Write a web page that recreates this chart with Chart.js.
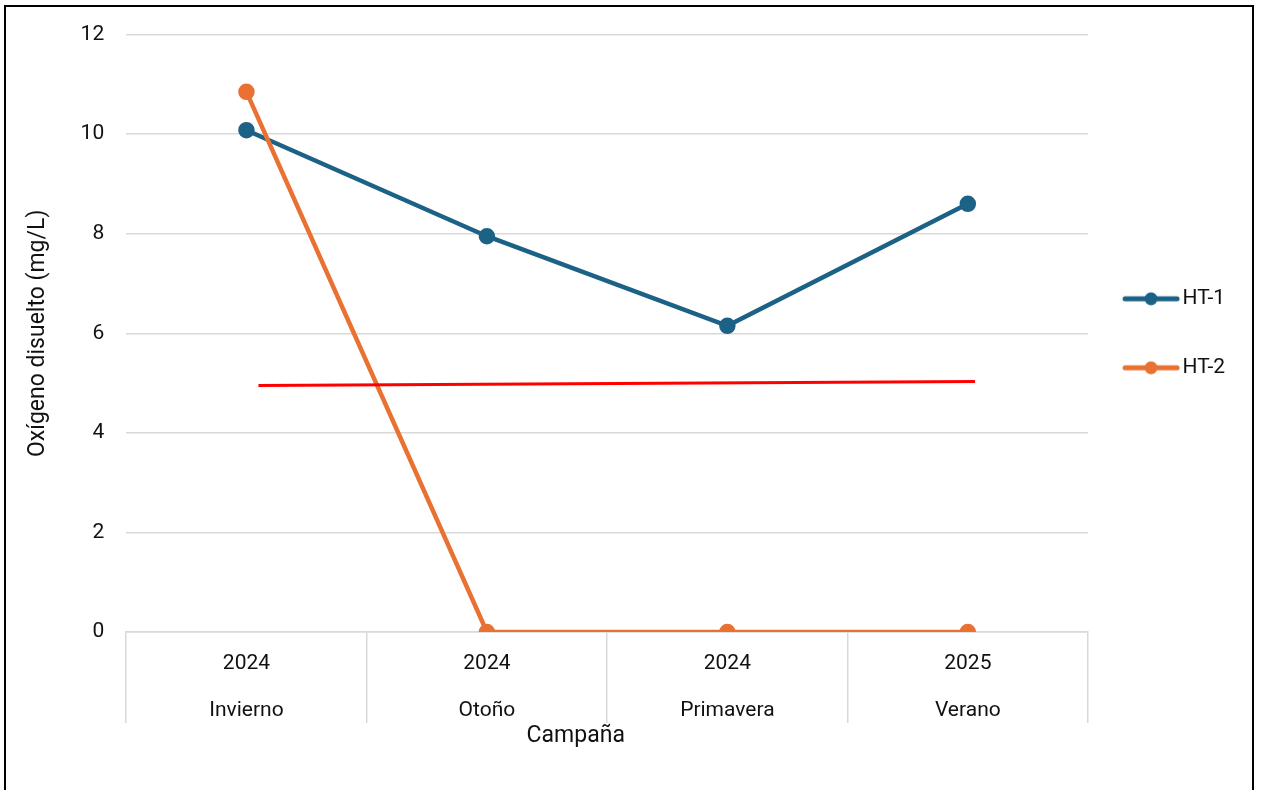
<!DOCTYPE html>
<html>
<head>
<meta charset="utf-8">
<script src="https://cdn.jsdelivr.net/npm/chart.js@4.4.1/dist/chart.umd.min.js"></script>
<style>
    html, body { margin: 0; padding: 0; background: #fff; }
    #wrap { position: relative; width: 1261px; height: 790px; }
    #frame {
        position: absolute; left: 4px; top: 5px; width: 1250px; height: 800px;
        border: 2px solid #000; box-sizing: border-box; pointer-events: none;
    }
</style>
</head>
<body>
<div id="wrap">
    <canvas id="myChart" width="1261" height="790"></canvas>
    <div id="frame"></div>
</div>
<script>
const years = ['2024', '2024', '2024', '2025'];
const seasons = ['Invierno', 'Otoño', 'Primavera', 'Verano'];
const ht1 = [10.08, 7.95, 6.15, 8.6];
const ht2 = [10.85, 0, 0, 0];
// limite de referencia (5 mg/L), trazado a mano sobre el grafico
const limitX = [0.55, 3.53];
const limitY = [4.95, 5.03];
const yTicks = [0, 2, 4, 6, 8, 10, 12];

const BLUE = '#1b6286';
const ORANGE = '#e97132';
const FONT = 'Roboto, "Liberation Sans", sans-serif';

Chart.defaults.font.family = FONT;
Chart.defaults.color = '#111';

// muestra de leyenda: linea con marcador, desplazada a la izquierda del hueco del icono
function legendSwatch(color) {
    const c = document.createElement('canvas');
    c.width = 80;
    c.height = 16;
    const g = c.getContext('2d');
    g.strokeStyle = color;
    g.lineWidth = 5;
    g.lineCap = 'round';
    g.beginPath();
    g.moveTo(11, 8);
    g.lineTo(63, 8);
    g.stroke();
    g.fillStyle = color;
    g.beginPath();
    g.arc(37, 8, 6.5, 0, Math.PI * 2);
    g.fill();
    return c;
}

const labels = seasons.map((s, i) => [years[i], s]);

new Chart(document.getElementById('myChart'), {
    type: 'line',
    data: {
        labels: labels,
        datasets: [
            {
                label: 'HT-1',
                data: ht1,
                order: 2,
                borderColor: BLUE,
                backgroundColor: BLUE,
                borderWidth: 4.5,
                pointRadius: 6,
                pointHoverRadius: 6,
                tension: 0
            },
            {
                label: 'HT-2',
                data: ht2,
                order: 1,
                borderColor: ORANGE,
                backgroundColor: ORANGE,
                borderWidth: 4.5,
                pointRadius: 6,
                pointHoverRadius: 6,
                tension: 0
            },
            {
                label: 'limite',
                data: limitX.map((x, i) => ({ x: x, y: limitY[i] })),
                order: 0,
                xAxisID: 'x2',
                borderColor: '#ff0000',
                borderWidth: 3,
                pointRadius: 0,
                borderCapStyle: 'butt'
            }
        ]
    },
    options: {
        responsive: false,
        animation: false,
        layout: { padding: { left: 24, right: 26, top: 29, bottom: 40 } },
        plugins: {
            legend: {
                position: 'right',
                align: 'center',
                fullSize: false,
                labels: {
                    usePointStyle: true,
                    pointStyleWidth: 36,
                    padding: 48,
                    font: { size: 21 },
                    color: '#111',
                    filter: item => item.datasetIndex < 2,
                    sort: (a, b) => a.datasetIndex - b.datasetIndex,
                    generateLabels: chart => {
                        const items = Chart.defaults.plugins.legend.labels.generateLabels(chart);
                        items.forEach(item => {
                            const ds = chart.data.datasets[item.datasetIndex];
                            item.pointStyle = legendSwatch(ds.borderColor);
                        });
                        return items;
                    }
                }
            },
            tooltip: { enabled: false }
        },
        scales: {
            x: {
                offset: true,
                grid: {
                    offset: true,
                    drawOnChartArea: false,
                    tickLength: 91,
                    color: '#d9d9d9',
                    lineWidth: 1.5
                },
                border: { color: '#d9d9d9', width: 1.5 },
                ticks: {
                    padding: -82,
                    autoSkip: false,
                    maxRotation: 0,
                    font: { size: 21, lineHeight: 2.2 },
                    color: '#111'
                },
                title: {
                    display: true,
                    text: 'Campaña\u00a0\u00a0\u00a0\u00a0\u00a0\u00a0\u00a0\u00a0\u00a0\u00a0\u00a0',
                    font: { size: 23 },
                    color: '#111',
                    padding: { top: 0, bottom: 0 }
                },
                afterFit: axis => {
                    axis.height = 118;
                }
            },
            x2: {
                type: 'linear',
                display: false,
                min: 0,
                max: 4
            },
            y: {
                min: 0,
                max: 12,
                afterBuildTicks: axis => {
                    axis.ticks = yTicks.map(v => ({ value: v }));
                },
                grid: {
                    color: '#d9d9d9',
                    lineWidth: 1.5,
                    drawTicks: false
                },
                border: { display: false },
                ticks: {
                    padding: 22,
                    font: { size: 21 },
                    color: '#111'
                },
                title: {
                    display: true,
                    text: 'Oxígeno disuelto (mg/L)',
                    font: { size: 23 },
                    color: '#111',
                    padding: { top: 0, bottom: 7 }
                }
            }
        }
    }
});
</script>
</body>
</html>
